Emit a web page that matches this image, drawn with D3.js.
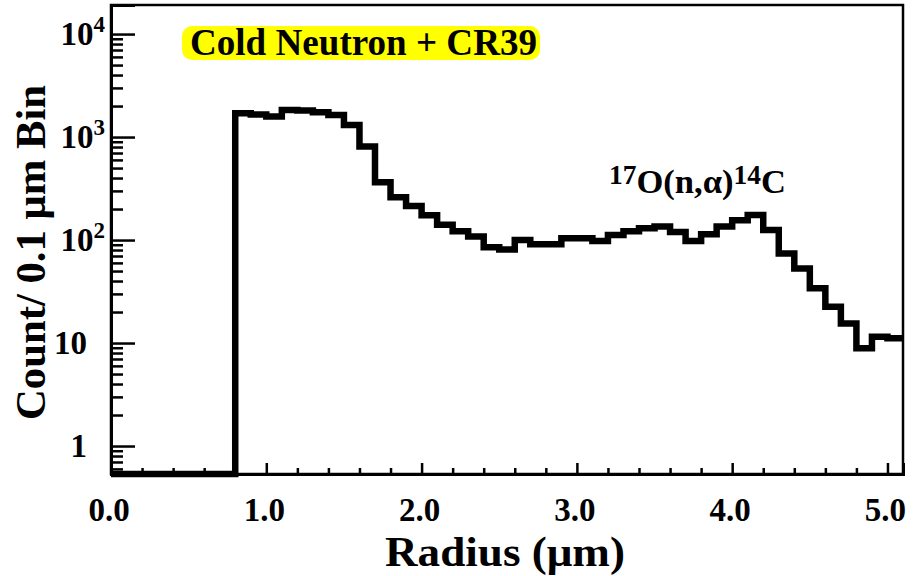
<!DOCTYPE html>
<html>
<head>
<meta charset="utf-8">
<script src="https://cdn.jsdelivr.net/npm/d3@7"></script>
<style>
  html, body { margin: 0; padding: 0; background: #fff; }
  svg { display: block; }
  text { font-family: "Liberation Serif", "Times New Roman", serif; font-weight: bold; fill: #000; }
</style>
</head>
<body>
<svg id="chart" width="913" height="576"></svg>
<script>
// Bin left edges (µm), bin width 0.1 µm
const binLeft = [0.0,0.1,0.2,0.3,0.4,0.5,0.6,0.7,0.8,0.9,
                 1.0,1.1,1.2,1.3,1.4,1.5,1.6,1.7,1.8,1.9,
                 2.0,2.1,2.2,2.3,2.4,2.5,2.6,2.7,2.8,2.9,
                 3.0,3.1,3.2,3.3,3.4,3.5,3.6,3.7,3.8,3.9,
                 4.0,4.1,4.2,4.3,4.4,4.5,4.6,4.7,4.8,4.9,5.0];
// Counts per 0.1 µm bin
const counts = [0,0,0,0,0,0,0,0,1700,1660,
                1580,1830,1810,1740,1640,1310,810,365,260,214,
                174,141,122,108,85,81,100,91,91,104,
                104,98,112,122,130,135,120,98,114,135,
                156,175,125,74,53,34,22.5,15.5,8.9,11.5,11.1];
const binWidth = 0.1;

const xMajorTicks = [0,1,2,3,4,5];
const xTickLabels = ["0.0","1.0","2.0","3.0","4.0","5.0"];
const xMinorTicks = [0.2,0.4,0.6,0.8,1.2,1.4,1.6,1.8,2.2,2.4,2.6,2.8,3.2,3.4,3.6,3.8,4.2,4.4,4.6,4.8];

const yMajorTicks = [1,10,100,1000,10000];
const yTickBase = ["1","10","10","10","10"];
const yTickExp  = ["","","2","3","4"];

const titleText = "Cold Neutron + CR39";
const annoSup1 = "17", annoMain = "O(n,\u03b1)", annoSup2 = "14", annoEnd = "C";
const xTitle = "Radius (\u03bcm)";
const yTitle = "Count/ 0.1 \u03bcm Bin";

const L = 111, R = 903, T = 5, B = 474;
const svg = d3.select("#chart");

const x = d3.scaleLinear().domain([0, 5.1]).range([L, R]);
const y = d3.scaleLog().domain([0.535, 19150]).range([B, T]).clamp(true);

// minor y ticks 2..9 x decade
const yMinorTicks = [];
[0.1,1,10,100,1000,10000].forEach(d => { for (let k = 2; k <= 9; k++) { const v = k*d; if (v >= 0.535 && v <= 19150) yMinorTicks.push(v); } });

// frame
svg.append("rect").attr("x", L).attr("y", T).attr("width", R - L).attr("height", B - T)
  .attr("fill", "none").attr("stroke", "#000").attr("stroke-width", 2.5);

// Y axis
const gy = svg.append("g").attr("transform", `translate(${L},0)`);
gy.call(d3.axisLeft(y).tickValues(yMajorTicks).tickSize(-24).tickFormat(""));
gy.call(g => g.append("g").call(d3.axisLeft(y).tickValues(yMinorTicks).tickSize(-12).tickFormat("")));
gy.selectAll("path.domain").attr("stroke-width", 3).attr("stroke", "#000");
gy.selectAll(".tick line").attr("stroke", "#000").attr("stroke-width", 2.5);

// Y tick labels
yMajorTicks.forEach((v, i) => {
  const t = svg.append("text").attr("y", y(v) + 11).attr("font-size", 33);
  if (yTickExp[i]) {
    t.attr("text-anchor", "end").attr("x", 105);
    t.append("tspan").text(yTickBase[i]);
    t.append("tspan").attr("dy", -13).attr("font-size", 23).text(yTickExp[i]);
  } else {
    t.attr("x", 87).attr("text-anchor", "end").text(yTickBase[i]);
  }
});

// X axis
const gx = svg.append("g").attr("transform", `translate(0,${B})`);
gx.call(d3.axisBottom(x).tickValues(xMajorTicks).tickSize(-11).tickFormat(""));
gx.call(g => g.append("g").call(d3.axisBottom(x).tickValues(xMinorTicks).tickSize(-6).tickFormat("")));
gx.selectAll("path.domain").attr("stroke-width", 3).attr("stroke", "#000");
gx.selectAll(".tick line").attr("stroke", "#000").attr("stroke-width", 2.5);

xMajorTicks.forEach((v, i) => {
  svg.append("text").attr("x", x(v) - 2).attr("y", 521).attr("text-anchor", "middle")
    .attr("font-size", 33).text(xTickLabels[i]);
});

// Histogram
const pts = binLeft.map((b, i) => [b, counts[i]]);
pts.push([binLeft[binLeft.length - 1] + binWidth, counts[counts.length - 1]]);
const line = d3.line().x(d => x(d[0])).y(d => y(d[1])).curve(d3.curveStepAfter);
svg.append("path").attr("d", line(pts)).attr("fill", "none").attr("stroke", "#000")
  .attr("stroke-width", 6.5).attr("stroke-linejoin", "miter");

// Title highlight
svg.append("rect").attr("x", 182).attr("y", 26).attr("width", 358).attr("height", 34)
  .attr("rx", 10).attr("fill", "#ffff00");
svg.append("text").attr("x", 190).attr("y", 55).attr("textLength", 347)
  .attr("lengthAdjust", "spacingAndGlyphs").attr("font-size", 37).text(titleText);

// Annotation
const an = svg.append("text").attr("x", 609).attr("y", 193).attr("font-size", 34)
  .attr("textLength", 177).attr("lengthAdjust", "spacingAndGlyphs");
an.append("tspan").attr("font-size", 27).attr("dy", -9).text(annoSup1);
an.append("tspan").attr("dy", 9).text(annoMain);
an.append("tspan").attr("font-size", 27).attr("dy", -9).text(annoSup2);
an.append("tspan").attr("dy", 9).text(annoEnd);

// Axis titles
svg.append("text").attr("x", 385).attr("y", 566).attr("textLength", 240)
  .attr("lengthAdjust", "spacingAndGlyphs").attr("font-size", 42).text(xTitle);
svg.append("text").attr("transform", "translate(45,420) rotate(-90)").attr("textLength", 335)
  .attr("lengthAdjust", "spacingAndGlyphs").attr("font-size", 42).text(yTitle);
</script>
</body>
</html>
